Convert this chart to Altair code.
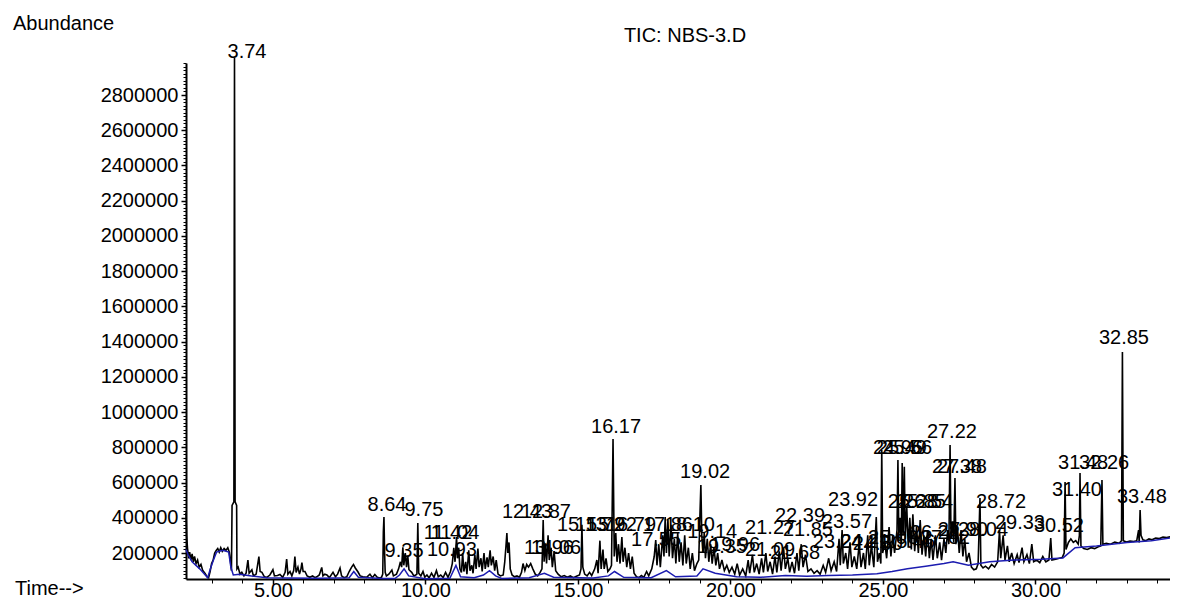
import altair as alt
import pandas as pd

# ---- TIC trace: (retention time [min], abundance [thousand counts]) ----
trace_2_to_9 = [
    (2.15, 430), (2.17, 300), (2.20, 225), (2.24, 170), (2.27, 205), (2.31, 160), (2.35, 195),
    (2.39, 150), (2.43, 180), (2.48, 140), (2.53, 160), (2.58, 120), (2.64, 135), (2.70, 100),
    (2.77, 85), (2.84, 65), (2.89, 60), (2.94, 95), (2.99, 140), (3.04, 160), (3.09, 200),
    (3.14, 215), (3.19, 225), (3.24, 205), (3.29, 230), (3.34, 210), (3.40, 225), (3.46, 215),
    (3.52, 230), (3.57, 205), (3.61, 150), (3.64, 100), (3.66, 470), (3.72, 490), (3.74, 3010),
    (3.76, 490), (3.81, 470), (3.82, 110), (3.86, 120), (3.92, 80), (3.98, 90), (4.05, 70),
    (4.12, 85), (4.18, 160), (4.22, 85), (4.31, 105), (4.36, 70), (4.45, 80), (4.54, 180),
    (4.58, 95), (4.64, 90), (4.72, 65), (4.80, 62), (4.90, 75), (5.00, 105), (5.05, 70),
    (5.15, 72), (5.23, 78), (5.32, 62), (5.40, 90), (5.45, 165), (5.49, 80), (5.56, 95),
    (5.62, 70), (5.68, 100), (5.72, 180), (5.76, 90), (5.82, 120), (5.87, 80), (5.92, 110),
    (5.95, 145), (5.99, 95), (6.05, 95), (6.12, 70), (6.21, 62), (6.30, 70), (6.38, 60),
    (6.44, 65), (6.52, 75), (6.60, 118), (6.64, 70), (6.70, 80), (6.77, 75), (6.85, 60),
    (6.97, 90), (7.05, 65), (7.12, 80), (7.20, 115), (7.25, 70), (7.33, 60), (7.42, 65),
    (7.50, 95), (7.58, 120), (7.64, 135), (7.70, 115), (7.79, 92), (7.86, 70), (7.95, 65),
    (8.07, 62), (8.18, 80), (8.26, 60), (8.34, 78), (8.42, 62), (8.50, 58), (8.56, 62),
    (8.60, 80), (8.62, 320), (8.64, 404), (8.66, 210), (8.68, 90), (8.72, 70),
]
trace_9_to_15 = [
    (8.80, 80), (8.90, 103), (8.95, 70), (9.05, 80), (9.12, 110), (9.18, 150), (9.22, 120),
    (9.26, 232), (9.29, 130), (9.34, 200), (9.38, 120), (9.42, 185), (9.46, 105), (9.55, 90),
    (9.62, 70), (9.68, 75), (9.72, 80), (9.75, 370), (9.78, 85), (9.85, 70), (9.92, 95),
    (9.98, 62), (10.05, 75), (10.12, 58), (10.20, 85), (10.28, 62), (10.36, 100), (10.42, 65),
    (10.50, 75), (10.58, 60), (10.66, 90), (10.74, 62), (10.82, 95), (10.88, 140), (10.93, 230),
    (10.97, 150), (11.02, 290), (11.05, 170), (11.09, 230), (11.13, 110), (11.18, 90),
    (11.22, 200), (11.26, 95), (11.32, 150), (11.36, 80), (11.42, 215), (11.46, 100),
    (11.52, 130), (11.56, 85), (11.62, 190), (11.66, 110), (11.72, 225), (11.76, 120),
    (11.82, 170), (11.86, 95), (11.92, 200), (11.96, 110), (12.02, 175), (12.06, 120),
    (12.12, 215), (12.16, 130), (12.22, 180), (12.27, 100), (12.32, 160), (12.38, 80),
    (12.46, 70), (12.55, 75), (12.60, 150), (12.64, 240), (12.67, 313), (12.70, 200),
    (12.74, 260), (12.78, 110), (12.84, 75), (12.92, 65), (13.00, 70), (13.08, 62),
    (13.15, 90), (13.20, 140), (13.26, 100), (13.32, 135), (13.38, 120), (13.45, 140),
    (13.52, 110), (13.60, 80), (13.68, 70), (13.76, 90), (13.82, 110), (13.86, 387),
    (13.89, 150), (13.93, 255), (13.97, 140), (14.02, 300), (14.06, 160), (14.12, 230),
    (14.16, 120), (14.22, 210), (14.27, 100), (14.35, 80), (14.45, 65), (14.55, 72),
    (14.65, 62), (14.75, 70), (14.85, 60), (14.95, 68), (15.05, 75), (15.10, 110),
    (15.13, 360), (15.16, 120),
]
trace_15_to_21 = [
    (15.22, 80), (15.30, 70), (15.38, 90), (15.45, 72), (15.55, 110), (15.62, 160), (15.66, 85),
    (15.72, 270), (15.76, 110), (15.82, 220), (15.86, 110), (15.92, 170), (15.98, 95),
    (16.05, 110), (16.10, 130), (16.15, 847), (16.19, 180), (16.24, 313), (16.28, 150),
    (16.33, 250), (16.38, 140), (16.44, 290), (16.48, 150), (16.54, 230), (16.60, 120),
    (16.66, 200), (16.72, 110), (16.78, 180), (16.84, 85), (16.92, 65), (17.00, 60),
    (17.08, 72), (17.16, 62), (17.25, 95), (17.32, 70), (17.42, 110), (17.50, 180),
    (17.55, 274), (17.59, 130), (17.65, 250), (17.70, 120), (17.78, 300), (17.82, 180),
    (17.86, 404), (17.90, 200), (17.95, 390), (17.99, 180), (18.05, 360), (18.10, 170),
    (18.16, 280), (18.21, 140), (18.27, 313), (18.32, 150), (18.38, 260), (18.44, 130),
    (18.50, 300), (18.55, 140), (18.62, 230), (18.68, 110), (18.75, 200), (18.82, 100),
    (18.90, 140), (18.96, 160), (19.00, 420), (19.03, 586), (19.06, 300), (19.10, 200),
    (19.14, 313), (19.18, 170), (19.24, 280), (19.29, 150), (19.35, 250), (19.40, 140),
    (19.46, 230), (19.52, 130), (19.58, 200), (19.64, 110), (19.72, 160), (19.80, 100),
    (19.88, 130), (19.96, 90), (20.05, 120), (20.14, 80), (20.22, 140), (20.30, 75),
    (20.40, 110), (20.50, 70), (20.58, 160), (20.63, 85), (20.72, 190), (20.78, 90),
    (20.86, 140), (20.94, 80), (21.02, 170), (21.08, 90), (21.16, 200), (21.22, 95),
    (21.30, 150), (21.38, 80), (21.46, 180),
]
trace_21_to_28 = [
    (21.52, 90), (21.60, 210), (21.66, 100), (21.74, 230), (21.80, 110), (21.88, 170),
    (21.94, 90), (22.02, 150), (22.10, 85), (22.18, 200), (22.24, 100), (22.32, 250),
    (22.38, 120), (22.46, 190), (22.54, 95), (22.64, 110), (22.74, 85), (22.84, 100),
    (22.94, 80), (23.04, 130), (23.12, 90), (23.22, 170), (23.30, 100), (23.40, 150),
    (23.48, 95), (23.56, 280), (23.60, 130), (23.66, 330), (23.70, 140), (23.78, 200),
    (23.84, 110), (23.92, 260), (23.98, 120), (24.06, 180), (24.14, 110), (24.22, 250),
    (24.28, 120), (24.36, 200), (24.42, 110), (24.50, 300), (24.55, 130), (24.62, 240),
    (24.70, 120), (24.78, 404), (24.82, 150), (24.88, 200), (24.93, 140), (24.96, 785),
    (24.99, 200), (25.06, 260), (25.12, 170), (25.20, 347), (25.26, 180), (25.32, 300),
    (25.38, 200), (25.46, 330), (25.49, 728), (25.52, 300), (25.56, 400), (25.60, 250),
    (25.63, 711), (25.66, 300), (25.70, 690), (25.73, 280), (25.78, 460), (25.83, 230),
    (25.88, 400), (25.93, 220), (25.98, 420), (26.04, 210), (26.10, 350), (26.16, 200),
    (26.22, 387), (26.28, 190), (26.34, 300), (26.40, 180), (26.46, 330), (26.52, 170),
    (26.58, 280), (26.64, 160), (26.72, 300), (26.78, 170), (26.86, 260), (26.92, 160),
    (27.00, 280), (27.06, 200), (27.12, 330), (27.16, 250), (27.20, 813), (27.23, 280),
    (27.28, 380), (27.32, 260), (27.36, 626), (27.39, 250), (27.44, 350), (27.50, 200),
    (27.56, 330), (27.62, 180), (27.68, 280), (27.74, 150), (27.82, 200), (27.90, 120),
    (27.98, 105),
]
trace_28_to_35 = [
    (28.06, 110), (28.12, 140), (28.18, 512), (28.21, 130), (28.28, 115), (28.36, 125),
    (28.46, 110), (28.56, 135), (28.66, 120), (28.76, 150), (28.82, 330), (28.86, 170),
    (28.94, 300), (29.00, 160), (29.08, 240), (29.14, 150), (29.22, 200), (29.30, 140),
    (29.40, 190), (29.46, 145), (29.56, 230), (29.62, 150), (29.72, 190), (29.80, 140),
    (29.88, 250), (29.94, 150), (30.04, 160), (30.14, 145), (30.24, 180), (30.34, 150),
    (30.44, 160), (30.50, 285), (30.54, 160), (30.66, 165), (30.78, 170), (30.88, 175),
    (30.94, 200), (30.97, 603), (31.00, 220), (31.08, 260), (31.16, 280), (31.24, 260),
    (31.32, 270), (31.40, 250), (31.44, 300), (31.46, 654), (31.49, 240), (31.58, 225),
    (31.70, 220), (31.82, 230), (31.94, 225), (32.06, 235), (32.14, 240), (32.18, 614),
    (32.21, 250), (32.32, 255), (32.46, 250), (32.60, 262), (32.74, 255), (32.82, 270),
    (32.85, 1341), (32.88, 270), (32.98, 262), (33.10, 268), (33.22, 265), (33.32, 270),
    (33.38, 330), (33.40, 260), (33.43, 444), (33.46, 300), (33.52, 275), (33.62, 270),
    (33.72, 280), (33.82, 275), (33.94, 285), (34.06, 282), (34.18, 290), (34.30, 288),
    (34.42, 292),
]

# integration baseline (blue line)
baseline_pts = [
    (2.15, 220), (2.22, 190), (2.35, 150), (2.60, 110), (2.86, 60), (2.95, 110), (3.05, 160),
    (3.15, 205), (3.35, 215), (3.55, 205), (3.62, 120), (3.70, 75), (3.90, 80), (4.30, 70),
    (4.80, 60), (5.50, 58), (6.50, 57), (7.50, 60), (7.65, 95), (7.80, 62), (8.60, 55),
    (9.00, 55), (9.15, 75), (9.30, 110), (9.45, 70), (10.00, 54), (10.80, 56), (11.00, 130),
    (11.15, 65), (11.60, 60), (11.90, 75), (12.10, 100), (12.30, 70), (12.50, 55), (13.40, 60),
    (13.90, 85), (14.20, 62), (15.50, 58), (16.00, 70), (16.20, 95), (16.50, 62), (17.40, 60),
    (17.90, 100), (18.20, 65), (18.90, 70), (19.10, 110), (19.50, 85), (20.20, 65), (21.00, 62),
    (21.80, 72), (22.50, 68), (23.20, 72), (24.00, 75), (24.80, 82), (25.30, 95), (25.80, 110),
    (26.40, 125), (27.00, 140), (27.30, 150), (27.80, 130), (28.50, 150), (29.30, 160),
    (30.20, 165), (30.90, 172), (31.30, 230), (32.00, 240), (33.00, 260), (33.80, 270),
    (34.42, 285),
]

# peak labels: text, anchor time [min], anchor abundance [thousand]
label_text = ["3.74", "8.64", "9.75", "9.35", "10.93", "11.04", "11.42", "12.43", "12.87",
              "13.96", "14.06", "15.13", "15.72", "15.92", "16.17", "16.79", "17.55", "17.86",
              "18.10", "19.02", "19.14", "19.35", "19.96", "21.27", "21.09", "21.68", "21.85",
              "22.39", "23.24", "23.57", "23.92", "24.21", "24.50", "25.06", "25.46", "24.96",
              "25.49", "25.56", "25.28", "25.85", "26.54", "26.22", "27.22", "27.38", "27.48",
              "27.62", "27.90", "28.04", "28.72", "29.33", "30.52", "31.40", "31.48", "32.26",
              "32.85", "33.48"]
label_time = [4.15, 8.74, 9.95, 9.30, 10.87, 10.97, 10.74, 13.33, 13.95,
              14.05, 14.28, 15.13, 15.72, 16.11, 16.25, 16.74, 17.56, 17.95,
              18.67, 19.17, 19.40, 19.72, 20.15, 21.30, 21.30, 22.12, 22.54,
              22.28, 23.52, 23.82, 24.02, 24.41, 24.83, 25.33, 25.89, 25.49,
              25.62, 25.79, 25.98, 26.24, 26.48, 26.70, 27.26, 27.43, 27.59,
              27.03, 27.62, 28.28, 28.87, 29.49, 30.77, 31.36, 31.56, 32.25,
              32.90, 33.49]
label_abund_k = [3044, 472, 444, 211, 217, 313, 313, 433, 433,
                 228, 228, 359, 359, 359, 915, 359, 274, 359,
                 359, 660, 319, 234, 245, 342, 217, 200, 331,
                 410, 262, 376, 501, 262, 251, 285, 262, 796,
                 796, 796, 490, 490, 490, 313, 887, 688, 688,
                 285, 330, 330, 490, 370, 353, 558, 711, 711,
                 1421, 518]

x_major = [5, 10, 15, 20, 25, 30]
y_major = list(range(200000, 2800001, 200000))

# ---- tables ----
trace_rows = trace_2_to_9 + trace_9_to_15 + trace_15_to_21 + trace_21_to_28 + trace_28_to_35
trace = pd.DataFrame(trace_rows, columns=["time", "k"])
trace["abundance"] = trace["k"] * 1000
trace["idx"] = range(len(trace))

base = pd.DataFrame(baseline_pts, columns=["time", "k"])
base["abundance"] = base["k"] * 1000
base["idx"] = range(len(base))

labels = pd.DataFrame({"label": label_text, "time": label_time,
                       "abundance": [v * 1000 for v in label_abund_k]})

FONT = "Liberation Sans"
xs = alt.Scale(domain=[2.15, 34.41], nice=False, zero=False)
ys = alt.Scale(domain=[52400, 2981700], nice=False, zero=False)

major_x_axis = alt.Axis(values=x_major, format=".2f", title=None, grid=False,
                        labelFont=FONT, labelFontSize=20, labelColor="black",
                        tickColor="black", tickSize=5, tickWidth=1.5,
                        domainColor="black", domainWidth=2,
                        labelBaseline="alphabetic", labelPadding=12,
                        orient="bottom", labelFlush=False)
major_y_axis = alt.Axis(values=y_major, format="d", title=None, grid=False,
                        labelFont=FONT, labelFontSize=20, labelColor="black",
                        tickColor="black", tickSize=5, tickWidth=1.5,
                        domainColor="black", domainWidth=2, labelPadding=3,
                        orient="left", labelFlush=False)
minor_x_axis = alt.Axis(values=list(range(3, 35)), labels=False, domain=False, grid=False,
                        title=None, tickColor="black", tickSize=4, tickWidth=1,
                        orient="bottom")
minor_y_axis = alt.Axis(values=list(range(60000, 2980001, 20000)), labels=False,
                        domain=False, grid=False, title=None, tickColor="black",
                        tickSize=3, tickWidth=1, orient="left")

line = alt.Chart(trace).mark_line(color="black", strokeWidth=1.6).encode(
    x=alt.X("time:Q", scale=xs, axis=major_x_axis),
    y=alt.Y("abundance:Q", scale=ys, axis=major_y_axis),
    order="idx:Q",
)

blue = alt.Chart(base).mark_line(color="#1c1cb0", strokeWidth=1.5).encode(
    x=alt.X("time:Q", scale=xs, axis=minor_x_axis),
    y=alt.Y("abundance:Q", scale=ys, axis=minor_y_axis),
    order="idx:Q",
)

peak_labels = alt.Chart(labels).mark_text(
    font=FONT, fontSize=20, color="black", align="center", baseline="middle"
).encode(
    x=alt.X("time:Q", scale=xs, axis=None),
    y=alt.Y("abundance:Q", scale=ys, axis=None),
    text="label:N",
)

one = pd.DataFrame({"a": [0]})
abundance_title = alt.Chart(one).mark_text(
    text="Abundance", font=FONT, fontSize=20, color="black", align="left", baseline="middle"
).encode(x=alt.value(-173), y=alt.value(-39))
time_title = alt.Chart(one).mark_text(
    text="Time-->", font=FONT, fontSize=20, color="black", align="left", baseline="alphabetic"
).encode(x=alt.value(-171), y=alt.value(532))
tic_title = alt.Chart(one).mark_text(
    text="TIC: NBS-3.D", font=FONT, fontSize=20, color="black", align="center", baseline="middle"
).encode(x=alt.value(499), y=alt.value(-27))

chart = alt.layer(line, blue, peak_labels, abundance_title, time_title, tic_title).resolve_axis(
    x="independent", y="independent"
).properties(
    width=984, height=516,
    padding={"left": 178, "top": 55, "right": 0, "bottom": 21},
    autosize=alt.AutoSizeParams(type="none"),
    background="white",
).configure_view(stroke=None)

chart.save("out.html", embed_options={"renderer": "svg", "actions": False})
